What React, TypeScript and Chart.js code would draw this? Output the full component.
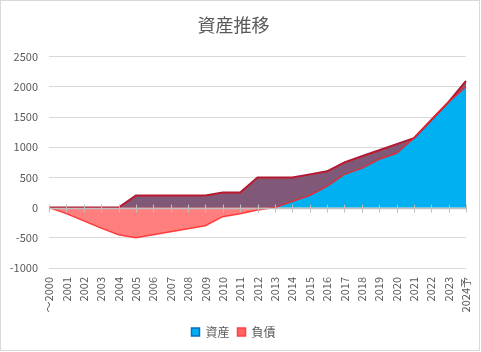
import React, { useEffect, useRef } from "react";
import { Chart, registerables } from "chart.js";

Chart.register(...registerables);

const categories = [
  "～2000", "2001", "2002", "2003", "2004", "2005", "2006", "2007", "2008", "2009",
  "2010", "2011", "2012", "2013", "2014", "2015", "2016", "2017", "2018", "2019",
  "2020", "2021", "2022", "2023", "2024予",
];

// 資産 (assets)
const assets = [
  0, 0, 0, 0, 0, 200, 200, 200, 200, 200,
  250, 250, 500, 500, 500, 550, 600, 750, 850, 950,
  1050, 1150, 1450, 1750, 2100,
];

// 負債 (liabilities, negative), stacked on top of assets
const liabilities = [
  0, -100, -220, -340, -450, -700, -650, -600, -550, -500,
  -400, -350, -540, -500, -400, -350, -250, -200, -200, -150,
  -150, 0, 0, 0, -100,
];

const yMin = -1000;
const yMax = 2500;
const yStep = 500;

const FONT = "'Noto Sans CJK JP', 'Noto Sans', sans-serif";
const GRAY = "#595959";

export default function App() {
  const ref = useRef<HTMLCanvasElement>(null);

  useEffect(() => {
    if (!ref.current) return;
    const stackedTop = assets.map((a, i) => a + liabilities[i]);

    const zeroAxis = {
      id: "zeroAxis",
      afterDatasetsDraw(chart: any) {
        const { ctx, chartArea, scales } = chart;
        const x = scales.x;
        const y = scales.y;
        const y0 = Math.round(y.getPixelForValue(0)) + 0.5;
        ctx.save();
        ctx.strokeStyle = "#BFBFBF";
        ctx.lineWidth = 1.5;
        ctx.beginPath();
        ctx.moveTo(chartArea.left, y0);
        ctx.lineTo(chartArea.right, y0);
        ctx.stroke();
        ctx.lineWidth = 1;
        ctx.beginPath();
        for (let i = 0; i < categories.length; i++) {
          const px = Math.round(x.getPixelForValue(i)) + 0.5;
          ctx.moveTo(px, y0 - 4);
          ctx.lineTo(px, y0 + 4);
        }
        ctx.stroke();
        ctx.restore();
      },
    };

    const chart = new Chart(ref.current, {
      type: "line",
      data: {
        labels: categories,
        datasets: [
          {
            label: "資産",
            data: assets,
            backgroundColor: "#00B0F0",
            borderColor: "#A3203F",
            borderWidth: 2,
            fill: "origin",
            pointRadius: 0,
            tension: 0,
            order: 1,
          },
          {
            label: "負債",
            data: stackedTop,
            backgroundColor: "rgba(255,0,0,0.5)",
            borderColor: "rgba(255,30,30,0.8)",
            borderWidth: 1.5,
            fill: "-1",
            pointRadius: 0,
            tension: 0,
            order: 0,
          },
        ],
      },
      options: {
        responsive: false,
        animation: false,
        devicePixelRatio: 1,
        layout: { padding: { left: 0, right: 13, top: 0, bottom: 2 } },
        plugins: {
          title: {
            display: true,
            text: "資産推移",
            color: GRAY,
            font: { size: 18, family: FONT, weight: "normal" },
            padding: { top: 13, bottom: 21 },
          },
          legend: {
            position: "bottom",
            labels: {
              boxWidth: 8,
              boxHeight: 8,
              color: GRAY,
              font: { size: 12, family: FONT },
              padding: 8,
              sort: (a: any, b: any) => a.datasetIndex - b.datasetIndex,
              generateLabels: (ch: any) =>
                ch.data.datasets.map((ds: any, i: number) => ({
                  text: ds.label,
                  fillStyle: i === 0 ? "#00B0F0" : "rgba(255,60,60,0.8)",
                  strokeStyle: i === 0 ? "#0070C0" : "#FF4040",
                  lineWidth: 1.5,
                  fontColor: GRAY,
                  hidden: false,
                  datasetIndex: i,
                })),
            },
          },
          tooltip: { enabled: false },
        },
        scales: {
          x: {
            grid: { display: false, drawTicks: false },
            border: { display: false },
            ticks: {
              autoSkip: false,
              minRotation: 90,
              maxRotation: 90,
              padding: 9,
              color: GRAY,
              font: { size: 11, family: FONT },
            },
            afterFit: (s: any) => {
              s.height = 50;
              s.paddingLeft = 0;
              s.paddingRight = 0;
            },
          },
          y: {
            min: yMin,
            max: yMax,
            grid: { color: "#D9D9D9", lineWidth: 1, drawTicks: false },
            border: { display: false },
            ticks: {
              stepSize: yStep,
              padding: 11,
              color: GRAY,
              font: { size: 11, family: FONT },
              callback: (v: any) => String(v),
            },
            afterFit: (s: any) => {
              s.width = 48;
            },
          },
        },
      },
      plugins: [zeroAxis],
    } as any);

    return () => chart.destroy();
  }, []);

  return (
    <div
      style={{
        position: "absolute",
        left: 0,
        top: 0,
        width: 480,
        height: 351,
        boxSizing: "border-box",
        border: "1px solid #D9D9D9",
        background: "#fff",
      }}
    >
      <canvas ref={ref} width={478} height={349} style={{ display: "block" }} />
    </div>
  );
}
